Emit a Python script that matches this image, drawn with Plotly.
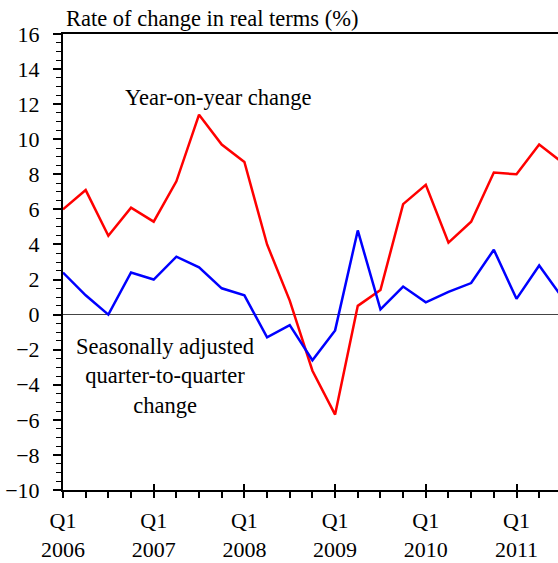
import plotly.graph_objects as go

quarters = ["2006Q1","2006Q2","2006Q3","2006Q4","2007Q1","2007Q2","2007Q3","2007Q4",
            "2008Q1","2008Q2","2008Q3","2008Q4","2009Q1","2009Q2","2009Q3","2009Q4",
            "2010Q1","2010Q2","2010Q3","2010Q4","2011Q1","2011Q2","2011Q3"]
yoy = [6.0, 7.1, 4.5, 6.1, 5.3, 7.6, 11.4, 9.7, 8.7, 4.0, 0.8, -3.2,
       -5.7, 0.5, 1.4, 6.3, 7.4, 4.1, 5.3, 8.1, 8.0, 9.7, 8.7]
qoq = [2.4, 1.1, 0.0, 2.4, 2.0, 3.3, 2.7, 1.5, 1.1, -1.3, -0.6, -2.6,
       -0.9, 4.8, 0.3, 1.6, 0.7, 1.3, 1.8, 3.7, 0.9, 2.8, 1.0]
year_labels = ["Q1<br>2006", "Q1<br>2007", "Q1<br>2008", "Q1<br>2009", "Q1<br>2010", "Q1<br>2011"]

xi = list(range(len(quarters)))
FONT = "Liberation Serif, Times New Roman, serif"
FS = 22
FA = 22.5

fig = go.Figure()
fig.add_trace(go.Scatter(x=xi, y=yoy, mode="lines", line=dict(color="#ff0000", width=2.5),
                         name="Year-on-year change", cliponaxis=True))
fig.add_trace(go.Scatter(x=xi, y=qoq, mode="lines", line=dict(color="#0000ff", width=2.5),
                         name="Seasonally adjusted quarter-to-quarter change", cliponaxis=True))
# overlay axis for inside part of major x ticks
fig.add_trace(go.Scatter(x=[0], y=[None], xaxis="x2", showlegend=False, hoverinfo="skip"))

xr = [0, 21.83]
fig.update_layout(
    width=558, height=563,
    margin=dict(l=63, r=0, t=34, b=73, autoexpand=False),
    paper_bgcolor="white", plot_bgcolor="white",
    showlegend=False,
    font=dict(family=FONT, size=FS, color="black"),
    xaxis=dict(range=xr, tickmode="array", tickvals=[0, 4, 8, 12, 16, 20],
               ticktext=year_labels, ticks="outside", ticklen=6, tickwidth=1.5,
               tickcolor="black", showline=True, linecolor="black", linewidth=2,
               mirror=True, showgrid=False, zeroline=False, automargin=False,
               minor=dict(tickmode="linear", dtick=1, ticks="outside", ticklen=6,
                          tickwidth=1.5, tickcolor="black", showgrid=False),
               ticklabelstandoff=4, tickfont=dict(size=FS)),
    xaxis2=dict(range=xr, overlaying="x", anchor="y", tickmode="array",
                tickvals=[0, 4, 8, 12, 16, 20], ticks="inside", ticklen=6, tickwidth=1.5,
                tickcolor="black", showticklabels=False, showgrid=False, zeroline=False,
                side="bottom", automargin=False),
    yaxis=dict(range=[-10, 16], tickmode="linear", tick0=-10, dtick=2,
               ticks="outside", ticklen=8, tickwidth=1.5, tickcolor="black",
               showline=True, linecolor="black", linewidth=2, showgrid=False,
               zeroline=True, zerolinecolor="#444444", zerolinewidth=1.2,
               automargin=False,
               minor=dict(tickmode="linear", dtick=0.5, ticks="outside", ticklen=5,
                          tickwidth=1.2, tickcolor="black", showgrid=False),
               ticklabelstandoff=9, tickfont=dict(size=FS)),
    annotations=[
        dict(text="Rate of change in real terms (%)", xref="paper", yref="paper",
             x=0.0, y=1.0, xanchor="left", yanchor="bottom", yshift=1, xshift=1,
             showarrow=False, font=dict(size=FA)),
        dict(text="Year-on-year change", x=6.86, y=12.37, xanchor="center", yanchor="middle",
             showarrow=False, font=dict(size=FA)),
        dict(text="Seasonally adjusted<br>quarter-to-quarter<br>change", x=4.52, y=-3.48,
             xanchor="center", yanchor="middle", showarrow=False, font=dict(size=FA),
             align="center"),
    ],
)

fig.write_html("out.html", config={"displayModeBar": False},
               post_script="document.body.style.margin='0';document.body.style.overflow='hidden';")
